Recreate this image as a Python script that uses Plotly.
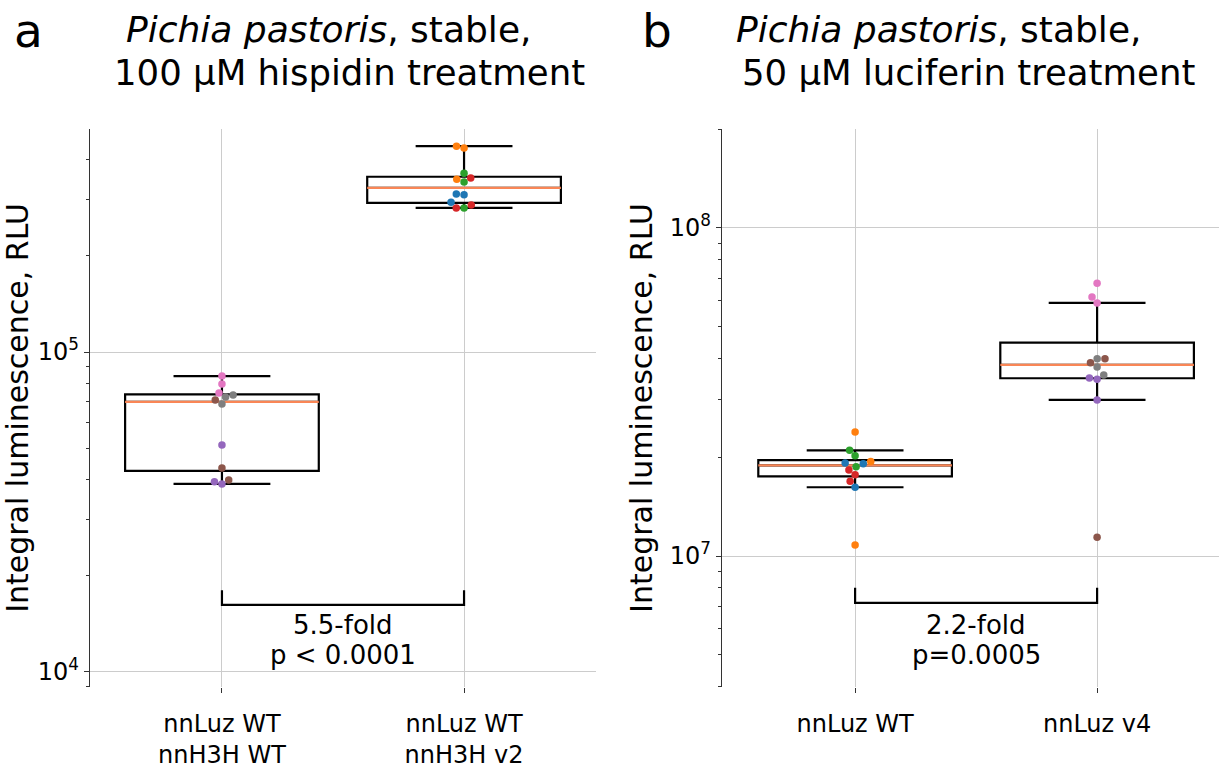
import numpy as np
import plotly.graph_objects as go

# ---------------- data ----------------
TAB10 = {'blue': '#1f77b4', 'orange': '#ff7f0e', 'green': '#2ca02c', 'red': '#d62728',
         'purple': '#9467bd', 'brown': '#8c564b', 'pink': '#e377c2', 'gray': '#7f7f7f'}

a_categories = ["nnLuz WT<br>nnH3H WT", "nnLuz WT<br>nnH3H v2"]
a_g1_clone = ['pink', 'pink', 'pink', 'gray', 'gray', 'brown', 'gray', 'purple', 'brown', 'purple', 'purple', 'brown']
a_g1_values = [84100, 79400, 74500, 73400, 72300, 70800, 68800, 51200, 43400, 39300, 38700, 39800]
a_g2_clone = ['orange', 'orange', 'green', 'orange', 'green', 'red', 'blue', 'blue', 'blue', 'green', 'red', 'red']
a_g2_values = [440000, 434000, 362000, 347000, 340000, 350000, 310000, 312000, 294000, 282000, 282000, 288000]
a_fold_text = "5.5-fold"
a_p_text = "p < 0.0001"

b_categories = ["nnLuz WT", "nnLuz v4"]
b_g1_clone = ['orange', 'green', 'green', 'orange', 'blue', 'blue', 'green', 'red', 'red', 'red', 'blue', 'orange']
b_g1_values = [2.39e7, 2.10e7, 2.02e7, 1.94e7, 1.91e7, 1.92e7, 1.87e7, 1.83e7, 1.77e7, 1.69e7, 1.62e7, 1.08e7]
b_g2_clone = ['pink', 'pink', 'pink', 'gray', 'brown', 'brown', 'gray', 'purple', 'purple', 'gray', 'purple', 'brown']
b_g2_values = [6.79e7, 6.16e7, 5.91e7, 3.99e7, 3.99e7, 3.88e7, 3.77e7, 3.49e7, 3.46e7, 3.56e7, 2.99e7, 1.14e7]
b_fold_text = "2.2-fold"
b_p_text = "p=0.0005"

# ---------------- geometry / style ----------------
W, H = 1219, 771
FONT = "DejaVu Sans"
Y_TOP_PX, Y_BOT_PX = 129, 687
ydom = [1 - Y_BOT_PX / H, 1 - Y_TOP_PX / H]
TITLE_SPLIT_PX = 51

panels = {
    'a': dict(xdom_px=(90, 596), xrange=(-0.545, 1.545), yrange=(3.953, 5.697),
              cats=a_categories, groups=[(a_g1_values, a_g1_clone), (a_g2_values, a_g2_clone)],
              bracket=(1.62e4, 1.80e4), fold=a_fold_text, p=a_p_text, fold_y=1.40e4, p_y=1.13e4,
              majors=[1e4, 1e5], ax='', letter='a', letter_x=28,
              t1="<i>Pichia pastoris</i>, stable,", t2="100 μM hispidin treatment",
              t1x=328, t2x=349),
    'b': dict(xdom_px=(722, W), xrange=(-0.55, -0.55 + (W - 722) / 242.0), yrange=(6.6006, 8.3018),
              cats=b_categories, groups=[(b_g1_values, b_g1_clone), (b_g2_values, b_g2_clone)],
              bracket=(7.2e6, 8.0e6), fold=b_fold_text, p=b_p_text, fold_y=6.17e6, p_y=4.99e6,
              majors=[1e7, 1e8], ax='2', letter='b', letter_x=657,
              t1="<i>Pichia pastoris</i>, stable,", t2="50 μM luciferin treatment",
              t1x=938, t2x=968),
}


def swarm_offsets(values, ppd, d):
    ys = np.log10(np.asarray(values, float)) * ppd
    order = np.argsort(ys, kind='stable')
    placed = []
    offs = np.zeros(len(ys))
    for i in order:
        y = ys[i]
        cands = [0.0]
        for (px, py) in placed:
            dy = abs(py - y)
            if dy < d:
                dx = np.sqrt(d * d - dy * dy)
                cands += [px - dx, px + dx]
        cands = sorted(cands, key=lambda c: (abs(c), c))
        for c in cands:
            if all((c - px) ** 2 + (y - py) ** 2 >= d * d - 1e-6 for px, py in placed):
                offs[i] = c
                placed.append((c, y))
                break
    return offs


fig = go.Figure()
annotations = []

for key, P in panels.items():
    xa = 'x' + P['ax']
    ya = 'y' + P['ax']
    plot_w = P['xdom_px'][1] - P['xdom_px'][0]
    ppu = plot_w / (P['xrange'][1] - P['xrange'][0])
    ppd = (Y_BOT_PX - Y_TOP_PX) / (P['yrange'][1] - P['yrange'][0])

    for gi, (vals, clones) in enumerate(P['groups']):
        v = np.asarray(vals, float)
        q1, med, q3 = np.percentile(v, [25, 50, 75])
        iqr = q3 - q1
        lo = v[v >= q1 - 1.5 * iqr].min()
        hi = v[v <= q3 + 1.5 * iqr].max()
        fig.add_trace(go.Box(x=[gi], q1=[q1], median=[med], q3=[q3], lowerfence=[lo], upperfence=[hi],
                             width=0.8, whiskerwidth=0.5, boxpoints=False,
                             line=dict(color='black', width=2.2), fillcolor='rgba(0,0,0,0)',
                             xaxis=xa, yaxis=ya, showlegend=False, hoverinfo='skip'))
        fig.add_trace(go.Scatter(x=[gi - 0.4, gi + 0.4], y=[med, med], mode='lines',
                                 line=dict(color='#f98656', width=2.2), xaxis=xa, yaxis=ya,
                                 showlegend=False, hoverinfo='skip'))
        offs = swarm_offsets(v, ppd, 7.8) / ppu
        xs = gi + offs
        for cname in dict.fromkeys(clones):
            idx = [k for k, c in enumerate(clones) if c == cname]
            fig.add_trace(go.Scatter(x=xs[idx], y=v[idx], mode='markers',
                                     marker=dict(color=TAB10[cname], size=7.5, line=dict(width=0)),
                                     xaxis=xa, yaxis=ya, showlegend=False, hoverinfo='skip'))

    lvl, top = P['bracket']
    fig.add_trace(go.Scatter(x=[0, 0, 1, 1], y=[top, lvl, lvl, top], mode='lines',
                             line=dict(color='black', width=2.2), xaxis=xa, yaxis=ya,
                             showlegend=False, hoverinfo='skip'))
    for txt, yv in ((P['fold'], P['fold_y']), (P['p'], P['p_y'])):
        annotations.append(dict(x=0.5, y=np.log10(yv), xref=xa, yref=ya, text=txt, showarrow=False,
                                xanchor='center', yanchor='middle', borderpad=0,
                                font=dict(family=FONT, size=26, color='black')))

    # titles
    annotations.append(dict(x=P['letter_x'] / W, y=1 - 31 / H, xref='paper', yref='paper', text=P['letter'],
                            showarrow=False, xanchor='center', yanchor='middle',
                            font=dict(family=FONT, size=47, color='black')))
    annotations.append(dict(x=P['t1x'] / W, y=1 - TITLE_SPLIT_PX / H, xref='paper', yref='paper',
                            text=P['t1'], showarrow=False, xanchor='center', yanchor='bottom',
                            borderpad=0, font=dict(family=FONT, size=36, color='black')))
    annotations.append(dict(x=P['t2x'] / W, y=1 - TITLE_SPLIT_PX / H, xref='paper', yref='paper',
                            text=P['t2'], showarrow=False, xanchor='center', yanchor='top',
                            borderpad=0, font=dict(family=FONT, size=35.5, color='black')))

    lo_d, hi_d = P['yrange']
    minors = [k * 10 ** e for e in range(int(np.floor(lo_d)), int(np.ceil(hi_d)) + 1)
              for k in range(2, 10) if lo_d <= np.log10(k * 10 ** e) <= hi_d]
    xkey = 'xaxis' + P['ax']
    ykey = 'yaxis' + P['ax']
    fig.layout[xkey] = dict(domain=[P['xdom_px'][0] / W, P['xdom_px'][1] / W], range=list(P['xrange']),
                            tickmode='array', tickvals=[0, 1], ticktext=P['cats'],
                            showgrid=True, gridcolor='#cccccc', gridwidth=1, zeroline=False,
                            showline=False, ticks='outside', ticklen=5, tickcolor='#333333',
                            ticklabelstandoff=10,
                            tickfont=dict(family=FONT, size=24, color='black'),
                            anchor=ya, fixedrange=True)
    fig.layout[ykey] = dict(domain=ydom, type='log', range=list(P['yrange']),
                            tickmode='array', tickvals=P['majors'],
                            ticktext=['10<sup>%d</sup>' % int(round(np.log10(m))) for m in P['majors']],
                            showgrid=True, gridcolor='#cccccc', gridwidth=1, zeroline=False,
                            showline=True, linecolor='#333333', linewidth=1.3,
                            ticks='outside', ticklen=5, tickcolor='#333333',
                            minor=dict(tickmode='array', tickvals=minors, ticks='outside', ticklen=3,
                                       tickcolor='#333333', showgrid=False),
                            tickfont=dict(family=FONT, size=24, color='black'),
                            title=dict(text='Integral luminescence, RLU', standoff=8,
                                       font=dict(family=FONT, size=30, color='black')),
                            anchor=xa, fixedrange=True)

fig.update_layout(width=W, height=H, margin=dict(l=0, r=0, t=0, b=0),
                  plot_bgcolor='white', paper_bgcolor='white', annotations=annotations,
                  showlegend=False, boxmode='overlay')

fig.write_html("out.html")
